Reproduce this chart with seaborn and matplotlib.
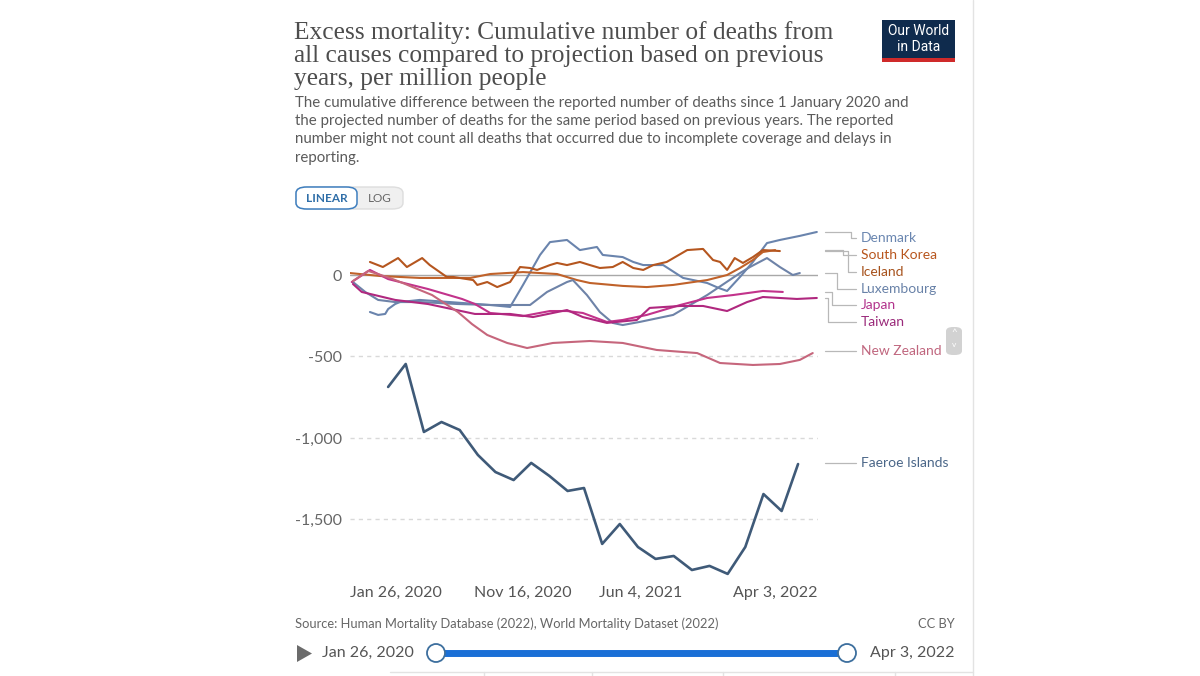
import pandas as pd
import matplotlib
matplotlib.use("Agg")
import matplotlib.pyplot as plt
from matplotlib.lines import Line2D
from matplotlib.patches import FancyBboxPatch, Rectangle, Ellipse, Polygon
import seaborn as sns

# ---- data (cumulative excess deaths per million) ----
dk_dates = ["2020-02-29", "2020-03-14", "2020-03-26", "2020-03-31", "2020-04-12", "2020-04-20",
            "2020-05-24", "2020-07-14", "2020-09-21", "2020-10-25", "2020-11-16", "2020-12-15",
            "2021-01-01", "2021-01-30", "2021-02-21", "2021-03-22", "2021-04-01", "2021-05-05",
            "2021-05-23", "2021-06-09", "2021-07-13", "2021-08-16", "2021-09-26", "2021-10-16",
            "2021-10-30", "2021-11-21", "2021-12-13", "2022-01-06", "2022-01-28", "2022-03-03",
            "2022-04-01"]
dk_vals = [-227, -245, -239, -209, -178, -166, -153, -166, -184, -196, -61, 123,
           202, 215, 153, 172, 123, 110, 80, 61, 61, -18, -49, -80,
           -98, -12, 80, 196, 215, 240, 264]

kr_dates = ["2020-01-26", "2020-03-17", "2020-05-24", "2020-08-18", "2020-09-21", "2020-11-16",
            "2021-01-13", "2021-02-16", "2021-03-10", "2021-05-05", "2021-06-15", "2021-07-30",
            "2021-09-26", "2021-10-30", "2021-11-21", "2021-12-13", "2021-12-30", "2022-01-20"]
kr_vals = [12, -6, -18, -18, 6, 18, 6, -31, -49, -67, -74, -61, -31, 0, 43, 92, 141, 153]

is_dates = ["2020-02-29", "2020-03-22", "2020-04-17", "2020-05-02", "2020-05-28", "2020-06-10",
            "2020-07-09", "2020-07-20", "2020-08-23", "2020-08-30", "2020-09-16", "2020-10-03",
            "2020-10-25", "2020-11-11", "2020-11-28", "2020-12-10", "2021-01-01", "2021-01-13",
            "2021-01-30", "2021-02-21", "2021-03-10", "2021-03-27", "2021-04-18", "2021-05-05",
            "2021-05-23", "2021-06-09", "2021-06-26", "2021-07-19", "2021-08-23", "2021-09-19",
            "2021-10-06", "2021-10-18", "2021-10-30", "2021-11-12", "2021-11-26", "2021-12-13",
            "2021-12-30", "2022-01-28"]
is_vals = [80, 49, 104, 49, 104, 61, -12, -12, -31, -61, -43, -74,
           -43, 49, 43, 31, 61, 74, 61, 80, 61, 43, 49, 80,
           43, 31, 61, 80, 153, 160, 92, 80, 31, 104, 74, 110,
           153, 147]

lu_dates = ["2020-01-31", "2020-02-21", "2020-03-14", "2020-04-12", "2020-05-24", "2020-07-28",
            "2020-09-21", "2020-11-28", "2020-12-27", "2021-01-30", "2021-02-09", "2021-03-05",
            "2021-03-27", "2021-04-18", "2021-05-05", "2021-06-03", "2021-07-30", "2021-09-26",
            "2021-11-21", "2021-12-08", "2022-01-06", "2022-01-28", "2022-02-19", "2022-03-03"]
lu_vals = [-43, -104, -153, -166, -166, -178, -184, -184, -104, -43, -31, -123,
           -227, -294, -307, -288, -245, -123, 12, 49, 104, 49, 0, 12]

jp_dates = ["2020-01-29", "2020-02-29", "2020-03-31", "2020-06-07", "2020-08-04", "2020-08-26",
            "2020-09-21", "2020-11-16", "2021-01-01", "2021-01-30", "2021-02-26", "2021-04-08",
            "2021-05-05", "2021-06-15", "2021-08-11", "2021-09-26", "2021-11-09", "2021-12-30",
            "2022-02-02"]
jp_vals = [-43, 31, -25, -86, -147, -178, -233, -252, -221, -221, -233, -288,
           -276, -245, -184, -141, -123, -98, -104]

tw_dates = ["2020-01-31", "2020-02-15", "2020-04-12", "2020-06-07", "2020-08-26", "2020-10-25",
            "2020-12-03", "2021-01-30", "2021-02-26", "2021-04-08", "2021-05-29", "2021-06-20",
            "2021-08-11", "2021-09-19", "2021-10-30", "2021-12-03", "2021-12-30", "2022-02-26",
            "2022-04-01"]
tw_vals = [-55, -104, -153, -178, -239, -239, -258, -215, -258, -294, -276, -202,
           -190, -190, -221, -166, -135, -147, -141]

nz_dates = ["2020-01-31", "2020-02-26", "2020-04-03", "2020-04-29", "2020-06-14", "2020-07-28",
            "2020-08-21", "2020-09-16", "2020-10-20", "2020-11-23", "2021-01-06", "2021-03-10",
            "2021-05-05", "2021-07-02", "2021-09-09", "2021-10-18", "2021-12-13", "2022-01-28",
            "2022-03-03", "2022-03-25"]
nz_vals = [-37, 25, -18, -55, -123, -227, -301, -368, -417, -448, -417, -405,
           -417, -460, -479, -540, -552, -546, -521, -479]

fo_dates = pd.date_range("2020-03-31", "2022-02-28", freq="ME")
fo_vals = [-687, -546, -963, -902, -951, -1104, -1209, -1258, -1153, -1233, -1325, -1307,
           -1650, -1528, -1669, -1742, -1724, -1810, -1785, -1834, -1669, -1344, -1448, -1160]

countries = ["Denmark", "South Korea", "Iceland", "Luxembourg", "Japan", "Taiwan",
             "New Zealand", "Faeroe Islands"]
series = {
    "Denmark": (dk_dates, dk_vals),
    "South Korea": (kr_dates, kr_vals),
    "Iceland": (is_dates, is_vals),
    "Luxembourg": (lu_dates, lu_vals),
    "Japan": (jp_dates, jp_vals),
    "Taiwan": (tw_dates, tw_vals),
    "New Zealand": (nz_dates, nz_vals),
    "Faeroe Islands": (fo_dates, fo_vals),
}
line_colors = {"Denmark": "#6a84ad", "South Korea": "#c0622a", "Iceland": "#b5561f",
               "Luxembourg": "#6e83a8", "Japan": "#c2338b", "Taiwan": "#b0287f",
               "New Zealand": "#c6667c", "Faeroe Islands": "#3f5a78"}
label_colors = {"Denmark": "#6a86b0", "South Korea": "#b8561e", "Iceland": "#a7521c",
                "Luxembourg": "#6982a8", "Japan": "#b2338c", "Taiwan": "#9a2a7a",
                "New Zealand": "#c0667e", "Faeroe Islands": "#4a6688"}
# label y (px from top) and x of the elbow in the connector
label_pos = {"Denmark": (238, 851), "South Korea": (255, 843), "Iceland": (272, 848),
             "Luxembourg": (289, 837), "Japan": (305, 832), "Taiwan": (322, 828),
             "New Zealand": (351, None), "Faeroe Islands": (463, None)}

y_ticks = [0, -500, -1000, -1500]
y_ticklabels = ["0", "-500", "-1,000", "-1,500"]
x_ticks = ["2020-01-26", "2020-11-16", "2021-06-04", "2022-04-03"]
x_ticklabels = ["Jan 26, 2020", "Nov 16, 2020", "Jun 4, 2021", "Apr 3, 2022"]

W, H = 1200, 676


def fx(x):
    return x / W


def fy(y):
    return 1 - y / H


sns.set_style("white")
plt.rcParams['font.family'] = ['Lato', 'DejaVu Sans']

fig = plt.figure(figsize=(12, 6.76), dpi=100)
fig.patch.set_facecolor("white")
ax = fig.add_axes([fx(350), fy(577), fx(818) - fx(350), fy(231) - fy(577)])

for yv in y_ticks[1:]:
    ax.axhline(yv, color="#d9d9d9", lw=1, ls=(0, (3, 3)), zorder=0)
ax.axhline(0, color="#a8a8a8", lw=1, zorder=0)

for c in countries:
    d, v = series[c]
    df = pd.DataFrame({"date": pd.to_datetime(d), "value": v})
    sns.lineplot(data=df, x="date", y="value", color=line_colors[c],
                 linewidth=1.9 if c == "Faeroe Islands" else 1.5, ax=ax)

ax.set_xlim(pd.Timestamp("2020-01-26"), pd.Timestamp("2022-04-03"))
ax.set_ylim(-1853, 270)
ax.set_yticks(y_ticks)
ax.set_yticklabels(y_ticklabels)
ax.set_xticks(pd.to_datetime(x_ticks))
ax.set_xticklabels(x_ticklabels)
ax.tick_params(axis="y", length=0, pad=6, labelsize=11.5, labelcolor="#666666")
ax.tick_params(axis="x", direction="inout", length=7, color="#c8c8c8", pad=3,
               labelsize=11.5, labelcolor="#555555")
xl = ax.get_xticklabels()
xl[0].set_ha("left")
xl[-1].set_ha("right")
ax.set_xlabel("")
ax.set_ylabel("")
for s in ax.spines.values():
    s.set_visible(False)

# end labels with connector lines
fig.canvas.draw()
inv = fig.transFigure.inverted()
for c in countries:
    d, v = series[c]
    disp = ax.transData.transform((0, v[-1]))
    y0 = (1 - inv.transform(disp)[1]) * H
    ly, ex = label_pos[c]
    if ex is None:
        xs, ys = [825, 856], [ly, ly]
    else:
        xs, ys = [825, ex, ex, 856], [y0, y0, ly, ly]
    fig.add_artist(Line2D([fx(x) for x in xs], [fy(y) for y in ys], color="#b8b8b8", lw=0.9))
    fig.text(fx(861), fy(ly), c, color=label_colors[c], fontsize=10, va="center", ha="left")

# scroll widget
fig.add_artist(FancyBboxPatch((fx(946), fy(355)), fx(16), fy(327) - fy(355),
                              boxstyle="round,pad=0,rounding_size=0.006",
                              fc="#d2d2d2", ec="none", transform=fig.transFigure))
fig.text(fx(954), fy(333), "^", color="white", fontsize=7, ha="center", va="center")
fig.text(fx(954), fy(344), "v", color="white", fontsize=6, ha="center", va="center")

# title and subtitle
title = ["Excess mortality: Cumulative number of deaths from",
         "all causes compared to projection based on previous",
         "years, per million people"]
for i, t in enumerate(title):
    fig.text(fx(294), fy(33 + 23 * i), t, family=["Liberation Serif", "DejaVu Serif"],
             fontsize=18.3, color="#4d4d4d", va="center", ha="left")
subtitle = ["The cumulative difference between the reported number of deaths since 1 January 2020 and",
            "the projected number of deaths for the same period based on previous years. The reported",
            "number might not count all deaths that occurred due to incomplete coverage and delays in",
            "reporting."]
for i, t in enumerate(subtitle):
    fig.text(fx(295), fy(103 + 18.2 * i), t, fontsize=10.8, color="#5b5b5b", va="center", ha="left")

# logo
fig.add_artist(Rectangle((fx(882), fy(58)), fx(73), fy(20) - fy(58), fc="#0f2b4d",
                         ec="none", transform=fig.transFigure))
fig.add_artist(Rectangle((fx(882), fy(62)), fx(73), fy(58) - fy(62), fc="#cf2a2a",
                         ec="none", transform=fig.transFigure))
fig.text(fx(918.5), fy(31), "Our World", color="white", fontsize=10, ha="center", va="center",
         family=["Roboto", "DejaVu Sans"])
fig.text(fx(918.5), fy(47), "in Data", color="white", fontsize=10, ha="center", va="center",
         family=["Roboto", "DejaVu Sans"])

# linear / log toggle
fig.add_artist(FancyBboxPatch((fx(296), fy(209)), fx(107), fy(187) - fy(209),
                              boxstyle="round,pad=0,rounding_size=0.009",
                              fc="#f0f0f0", ec="#dddddd", lw=1, transform=fig.transFigure))
fig.add_artist(FancyBboxPatch((fx(296), fy(209)), fx(61), fy(187) - fy(209),
                              boxstyle="round,pad=0,rounding_size=0.009",
                              fc="white", ec="#3f7fbf", lw=1.1, transform=fig.transFigure))
fig.text(fx(326.5), fy(198), "LINEAR", color="#2f6ea8", fontsize=8.5, fontweight="bold",
         ha="center", va="center")
fig.text(fx(380), fy(198), "LOG", color="#666666", fontsize=8.5, ha="center", va="center")

# footer
fig.text(fx(295), fy(624), "Source: Human Mortality Database (2022), World Mortality Dataset (2022)",
         fontsize=9.3, color="#666666", ha="left", va="center")
fig.text(fx(955), fy(624), "CC BY", fontsize=9.3, color="#666666", ha="right", va="center")

# timeline
fig.add_artist(Polygon([(fx(297), fy(645)), (fx(297), fy(662)), (fx(312), fy(653.5))],
                       closed=True, fc="#6b6b6b", ec="none", transform=fig.transFigure))
fig.text(fx(322), fy(653), "Jan 26, 2020", fontsize=11.5, color="#555555", ha="left", va="center")
fig.text(fx(954), fy(653), "Apr 3, 2022", fontsize=11.5, color="#555555", ha="right", va="center")
fig.add_artist(Line2D([fx(436), fx(847)], [fy(653), fy(653)], color="#1a6fd6", lw=5,
                      solid_capstyle="butt", zorder=3))
for cx in [436, 847]:
    fig.add_artist(Ellipse((fx(cx), fy(653)), fx(18), 18 / H, fc="white", ec="#3d6f9e",
                           lw=1.3, transform=fig.transFigure, zorder=4))

# card borders
fig.add_artist(Line2D([fx(973), fx(973)], [0, 1], color="#e3e3e3", lw=1))
fig.add_artist(Line2D([fx(390), fx(973)], [fy(672), fy(672)], color="#e3e3e3", lw=1))
for sx in [484, 592, 723, 895]:
    fig.add_artist(Line2D([fx(sx), fx(sx)], [fy(672), 0], color="#e3e3e3", lw=1))

fig.savefig("out.png", dpi=100, facecolor="white")
